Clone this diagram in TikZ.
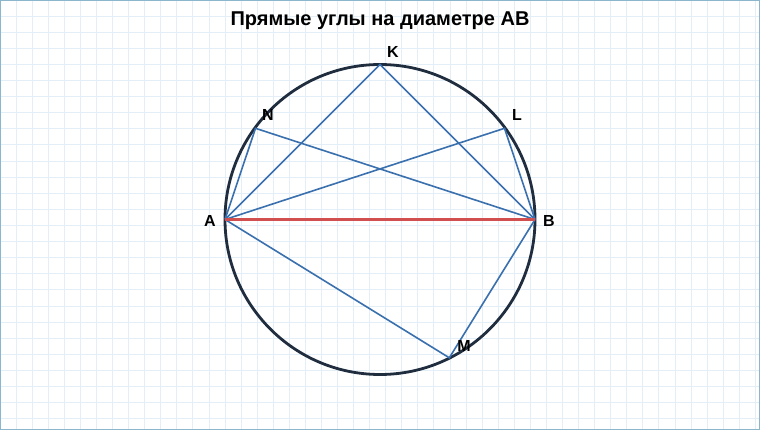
\documentclass[tikz,border=0pt]{standalone}
\usepackage{fontspec}
\setmainfont{Liberation Sans}
\begin{document}
\begin{tikzpicture}[x=1pt,y=-1pt,
  circ/.style={draw=navy,line width=2.8pt},
  chord/.style={draw=chordblue,line width=1.6pt},
  diam/.style={draw=diamred,line width=3pt},
  lbl/.style={font=\bfseries\fontsize{16}{18}\selectfont,text=black,inner sep=0pt},
  ttl/.style={font=\bfseries\fontsize{20}{22}\selectfont,text=black,inner sep=0pt}]
\definecolor{navy}{HTML}{1F2D3F}
\definecolor{chordblue}{HTML}{3A70AE}
\definecolor{diamred}{HTML}{D24F4F}
\definecolor{gridc}{HTML}{E3EEF7}
\definecolor{borderc}{HTML}{8CB6CC}
\useasboundingbox (0,0) rectangle (760,430);
\fill[white] (0,0) rectangle (760,430);
\foreach \i in {1,...,47} \draw[gridc,line width=0.8pt] (\i*16.07,0) -- (\i*16.07,430);
\foreach \j in {1,...,26} \draw[gridc,line width=0.8pt] (0,\j*16.1) -- (760,\j*16.1);
\draw[borderc,line width=2.4pt] (0,0) rectangle (760,430);
\node[ttl] (title) at (380,21) {Прямые углы на диаметре AB};
\coordinate (O) at (380,219.5);
\coordinate (A) at (225,219.5);
\coordinate (B) at (535,219.5);
\coordinate (K) at (380,64.5);
\coordinate (N) at (255.5,128.3);
\coordinate (L) at (504.5,128.3);
\coordinate (M) at (449.3,357.8);
\draw[circ] (O) circle[radius=155];
\draw[chord] (A) -- (K) -- (B);
\draw[chord] (A) -- (N) -- (B);
\draw[chord] (A) -- (L) -- (B);
\draw[chord] (A) -- (M) -- (B);
\draw[diam] (A) -- (B);
\node[lbl] (lK) at (393,52) {K};
\node[lbl] (lN) at (268,115) {N};
\node[lbl] (lL) at (517,115) {L};
\node[lbl] (lA) at (210,221) {A};
\node[lbl] (lB) at (549,221) {B};
\node[lbl] (lM) at (464,346) {M};
\end{tikzpicture}
\end{document}
